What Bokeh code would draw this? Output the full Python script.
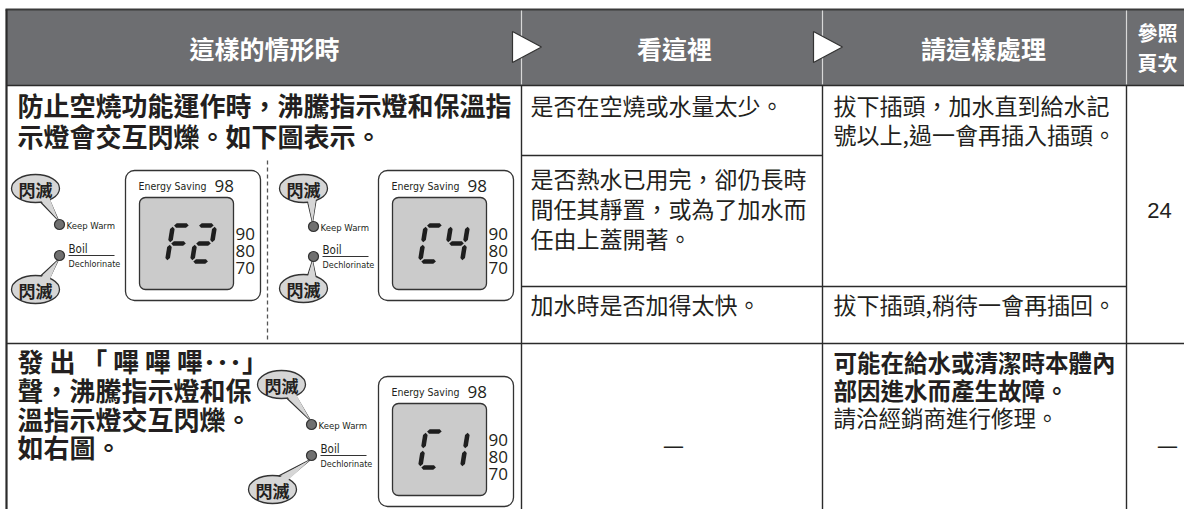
from bokeh.plotting import figure
from bokeh.models import Range1d
from bokeh.embed import file_html
from bokeh.resources import INLINE
from bokeh.core.properties import value

# ---------------- data (texts of the table) ----------------
header_labels = ["這樣的情形時", "看這裡", "請這樣處理"]
ref_header = ["參照", "頁次"]
case1_lines = ["防止空燒功能運作時，沸騰指示燈和保溫指", "示燈會交互閃爍。如下圖表示。"]
case2_lines = ["發 出 「 嗶 嗶 嗶･･･」", "聲，沸騰指示燈和保", "溫指示燈交互閃爍。", "如右圖。"]
check_1a = ["是否在空燒或水量太少。"]
check_1b = ["是否熱水已用完，卻仍長時", "間任其靜置，或為了加水而", "任由上蓋開著。"]
check_1c = ["加水時是否加得太快。"]
action_1ab = ["拔下插頭，加水直到給水記", "號以上,過一會再插入插頭。"]
action_1c = ["拔下插頭,稍待一會再插回。"]
action_2_bold = ["可能在給水或清潔時本體內", "部因進水而產生故障。"]
action_2 = ["請洽經銷商進行修理。"]
page_refs = ["24", "—"]
check_2 = ["—"]
display_codes = ["F2", "C4", "C1"]
top_temp = "98"
scale_labels = ["90", "80", "70"]
mode_label = "Energy Saving"
blink_label = "閃滅"
lamp_labels = ["Keep Warm", "Boil", "Dechlorinate"]

# ---------------- style ----------------
CJK = "Noto Sans CJK TC"
LAT = "DejaVu Sans Condensed, Roboto Condensed, Roboto, sans-serif"
INK = "#231f20"
LINE = "#2b2b2b"
HEAD = "#6d6e71"

p = figure(width=1184, height=509, x_range=Range1d(0, 1184), y_range=Range1d(509, 0),
           output_backend="svg", toolbar_location=None, min_border=0,
           x_axis_type=None, y_axis_type=None)
p.grid.visible = False
p.outline_line_color = None
p.background_fill_color = "white"
p.border_fill_color = "white"


def txt(xs, ys, texts, size, color=INK, bold=False, align="left", font=CJK):
    p.text(x=xs, y=ys, text=texts, text_font=value(font), text_font_size=f"{size}px",
           text_font_style="bold" if bold else "normal", text_color=color,
           text_align=align, text_baseline="middle")


def hline(x0, x1, y, color=LINE, w=1.4, dash="solid"):
    p.line([x0, x1], [y, y], line_color=color, line_width=w, line_dash=dash)


def vline(x, y0, y1, color=LINE, w=1.4, dash="solid"):
    p.line([x, x], [y0, y1], line_color=color, line_width=w, line_dash=dash)


# ---------------- header ----------------
C1, C2, C3 = 521, 822, 1126
ROW2 = 343
p.quad(left=[6], right=[1200], top=[9], bottom=[85], fill_color=HEAD, line_color=None)
hline(5, 1200, 9, color="#3a3a3a", w=2.2)
for cx in (C1, C2, C3):
    vline(cx, 10, 84, color="#d8d8d8", w=1.2)
for tx in (C1 + 3, C2 + 3):
    p.patch(x=[tx - 12, tx - 12, tx + 17], y=[31, 62, 46.5], fill_color="white",
            line_color="#333333", line_width=1.2)
txt([264, 674, 983], [47, 47, 47], header_labels, 25, color="white", bold=True, align="center")
txt([1157, 1157], [32, 62], ref_header, 20, color="white", bold=True, align="center")

# ---------------- grid lines ----------------
hline(6, 1200, 85)
vline(6, 9, 525, w=2.2)
vline(C1, 85, 525)
vline(C2, 85, 525)
vline(C3, 85, 525)
hline(C1, C2, 155)
hline(C1, C3, 286)
hline(6, 1200, ROW2)
vline(267, 160, 340, color="#555555", w=1.3, dash="4 3")

# ---------------- texts ----------------
txt([17, 17], [104, 135], case1_lines, 26, bold=True)
txt([17] * 4, [360, 389, 418, 446], case2_lines, 26, bold=True)
txt([530], [104], check_1a, 23)
txt([530] * 3, [177, 207, 237], check_1b, 23)
txt([530], [303], check_1c, 23)
txt([833, 833], [104, 133], action_1ab, 23)
txt([833], [303], action_1c, 23)
txt([833, 833], [361, 389], action_2_bold, 23.5, bold=True)
txt([833], [416], action_2, 22.5)
txt([1159], [210], page_refs[:1], 22, font="Liberation Sans", align="center")
txt([1167], [443], page_refs[1:], 24, align="center")
txt([673], [443], check_2, 24, align="center")


# ---------------- display panels ----------------
SEGS = {"F": "aefg", "2": "abged", "C": "afed", "4": "fgbc", "1": "bc"}


def seg_polys(cx, cy, ch, w=17, h=36, t=4.6, slant=0.16):
    hw, hh, g = w / 2, h / 2, 1.2
    shapes = {
        "a": ("h", -hh), "g": ("h", 0), "d": ("h", hh),
        "f": ("v", -hw, -hh, 0), "e": ("v", -hw, 0, hh),
        "b": ("v", hw, -hh, 0), "c": ("v", hw, 0, hh),
    }
    xs_all, ys_all = [], []
    for s in SEGS[ch]:
        sh = shapes[s]
        if sh[0] == "h":
            y = sh[1]
            x0, x1 = -hw + g, hw - g
            pts = [(x0, y), (x0 + t / 2, y - t / 2), (x1 - t / 2, y - t / 2),
                   (x1, y), (x1 - t / 2, y + t / 2), (x0 + t / 2, y + t / 2)]
        else:
            x, y0, y1 = sh[1], sh[2] + g, sh[3] - g
            pts = [(x, y0), (x + t / 2, y0 + t / 2), (x + t / 2, y1 - t / 2),
                   (x, y1), (x - t / 2, y1 - t / 2), (x - t / 2, y0 + t / 2)]
        xs_all.append([cx + px - slant * py for px, py in pts])
        ys_all.append([cy + py for px, py in pts])
    return xs_all, ys_all


BOX_W, BOX_H = 135, 130


def lcd(bl, bt, code):
    p.quad(left=[bl], right=[bl + BOX_W], top=[bt], bottom=[bt + BOX_H], fill_color="white",
           line_color="#333333", line_width=1.3, border_radius=9)
    p.quad(left=[bl + 14], right=[bl + 108], top=[bt + 27], bottom=[bt + BOX_H - 11],
           fill_color="#cbcbcb", line_color="#333333", line_width=1.3, border_radius=6)
    txt([bl + 13], [bt + 15], [mode_label], 10.5, font=LAT)
    txt([bl + 89], [bt + 15], [top_temp], 17, font="Open Sans")
    txt([bl + 110] * 3, [bt + 63, bt + 80, bt + 97], scale_labels, 17, font="Open Sans")
    for i, ch in enumerate(code):
        xs, ys = seg_polys(bl + 14 + 39 + 25 * i, bt + 27 + (BOX_H - 38) / 2, ch)
        p.patches(xs, ys, fill_color="#1e1e1e", line_color=None)


def bubble(cx, cy, dx, dy, up):
    w, h = 48, 28
    s = 1 if up else -1  # up: bubble above the lamp
    base1 = (cx + 4, cy + s * (h / 2 - 1.5))
    base2 = (cx + 13, cy + s * (h / 2 - 5))
    tip = (dx - 1, dy - s * 4)
    tx = [base1[0], tip[0], base2[0]]
    ty = [base1[1], tip[1], base2[1]]
    p.patch(x=tx, y=ty, fill_color="#d6d6d6", line_color="#333333", line_width=1.2)
    p.ellipse(x=[cx], y=[cy], width=[w], height=[h], fill_color="#d6d6d6",
              line_color="#333333", line_width=1.3)
    p.patch(x=tx, y=[ty[0] - s * 2, ty[1], ty[2] - s * 2], fill_color="#d6d6d6", line_color=None)
    txt([cx], [cy + 1], [blink_label], 17, bold=True, align="center")


def lamps(bx_top, by_top, bx_bot, by_bot, dx, dy1, dy2):
    bubble(bx_top, by_top, dx, dy1, True)
    bubble(bx_bot, by_bot, dx, dy2, False)
    p.scatter(x=[dx, dx], y=[dy1, dy2], size=10, fill_color="#707070",
              line_color="#333333", line_width=1.2)
    txt([dx + 7], [dy1 + 1], lamp_labels[:1], 9.5, font=LAT)
    txt([dx + 9], [dy2 - 7], lamp_labels[1:2], 11.5, font=LAT)
    hline(dx + 9, dx + 55, dy2, color="#333333", w=1.1)
    txt([dx + 9], [dy2 + 8], lamp_labels[2:], 9, font=LAT)


lamps(35, 188, 35, 289, 59, 224, 255)
lcd(125, 170, display_codes[0])
lamps(303, 188, 303, 288, 313, 226, 256)
lcd(378, 170, display_codes[1])
lamps(281, 384, 272, 489, 311, 424, 455)
lcd(378, 376, display_codes[2])

open("out.html", "w").write(file_html(p, INLINE))
